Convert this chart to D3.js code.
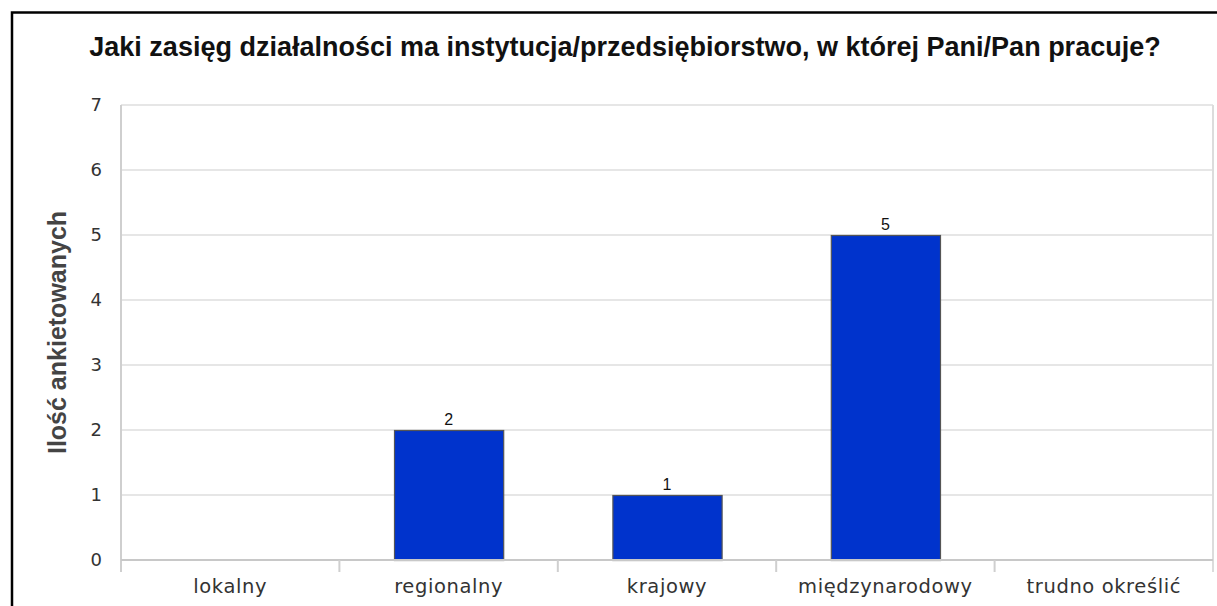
<!DOCTYPE html>
<html><head><meta charset="utf-8">
<script src="https://cdn.jsdelivr.net/npm/d3@7"></script>
<style>body{margin:0;background:#fff}svg{display:block}</style>
</head><body>
<svg id="c" width="1217" height="606"></svg>
<script>
const categories = ["lokalny","regionalny","krajowy","międzynarodowy","trudno określić"];
const values = [0,2,1,5,0];
const yTicks = [0,1,2,3,4,5,6,7];
const title = "Jaki zasięg działalności ma instytucja/przedsiębiorstwo, w której Pani/Pan pracuje?";
const yTitle = "Ilość ankietowanych";

const svg = d3.select("#c");
const L = 121, R = 1213, T = 105, B = 560;

// frame
svg.append("rect").attr("x",12).attr("y",12.5).attr("width",1240).attr("height",640)
  .attr("fill","none").attr("stroke","#000").attr("stroke-width",2.5);

svg.append("text").attr("x",625).attr("y",56).attr("text-anchor","middle")
  .attr("font-family","Liberation Sans, Arial, sans-serif").attr("font-weight","bold")
  .attr("font-size",27).attr("fill","#111").text(title);

const x = d3.scaleBand().domain(categories).range([L,R]).padding(0);
const y = d3.scaleLinear().domain([0,7]).range([B,T]);

// grid
svg.append("g").selectAll("line").data(yTicks.filter(d=>d>0)).join("line")
  .attr("x1",L).attr("x2",R).attr("y1",d=>y(d)).attr("y2",d=>y(d))
  .attr("stroke","#e6e6e6").attr("stroke-width",2);
svg.append("line").attr("x1",R).attr("x2",R).attr("y1",T).attr("y2",B+12)
  .attr("stroke","#dcdcdc").attr("stroke-width",2);

// y axis
const ya = svg.append("g").attr("transform",`translate(${L},0)`)
  .call(d3.axisLeft(y).tickValues(yTicks).tickFormat(d3.format("d")).tickSize(0).tickPadding(19));
ya.select(".domain").remove();
ya.selectAll("text").attr("font-family","DejaVu Sans, sans-serif").attr("font-size",18).attr("fill","#333");
svg.append("line").attr("x1",L).attr("x2",L).attr("y1",T).attr("y2",B+12)
  .attr("stroke","#cfcfcf").attr("stroke-width",2);

// bars
const bw = x.bandwidth()*0.5;
const data = categories.map((c,i)=>({c,v:values[i]})).filter(d=>d.v>0);
svg.append("g").selectAll("rect").data(data).join("rect")
  .attr("x",d=>x(d.c)+x.bandwidth()/2-bw/2+0.5).attr("y",d=>y(d.v)+0.5)
  .attr("width",bw).attr("height",d=>y(0)-y(d.v))
  .attr("fill","#0033cc").attr("stroke","#555").attr("stroke-width",1.2);

// x axis
const xa = svg.append("g").attr("transform",`translate(0,${B})`)
  .call(d3.axisBottom(x).tickSize(0));
xa.select(".domain").remove();
xa.selectAll("text").attr("y",33).attr("dy",0).attr("letter-spacing",0.6)
  .attr("font-family","DejaVu Sans, sans-serif").attr("font-size",19.5).attr("fill","#333");
svg.append("line").attr("x1",L).attr("x2",R).attr("y1",B).attr("y2",B)
  .attr("stroke","#c8c8c8").attr("stroke-width",2);
// category separators
svg.append("g").selectAll("line").data(categories.slice(1)).join("line")
  .attr("x1",d=>x(d)).attr("x2",d=>x(d)).attr("y1",B).attr("y2",B+12)
  .attr("stroke","#cfcfcf").attr("stroke-width",2);

// value labels
svg.append("g").selectAll("text").data(data).join("text")
  .attr("x",d=>x(d.c)+x.bandwidth()/2).attr("y",d=>y(d.v)-5)
  .attr("text-anchor","middle").attr("font-family","Liberation Sans, Arial, sans-serif")
  .attr("font-size",16).attr("fill","#111").text(d=>d.v);

// y title
svg.append("text").attr("transform",`translate(66,${(T+B)/2}) rotate(-90)`)
  .attr("text-anchor","middle").attr("font-family","Liberation Sans, Arial, sans-serif")
  .attr("font-weight","bold").attr("font-size",25).attr("fill","#444").text(yTitle);
</script>
</body></html>
